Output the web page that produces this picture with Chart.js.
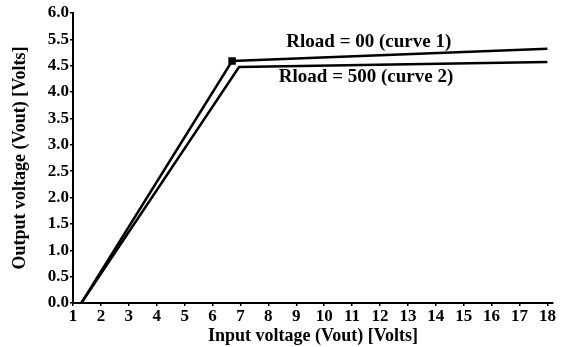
<!DOCTYPE html>
<html>
<head>
<meta charset="utf-8">
<script src="https://cdn.jsdelivr.net/npm/chart.js@4"></script>
<style>
html,body{margin:0;padding:0;background:#fff;}
#wrap{width:567px;height:347px;position:relative;}
</style>
</head>
<body>
<div id="wrap"><canvas id="c" width="567" height="347"></canvas></div>
<script>
// Tick labels (the original axis skips 5.0; ticks are evenly spaced)
const yTickLabels = ["0.0","0.5","1.0","1.5","2.0","2.5","3.0","3.5","4.0","4.5","5.5","6.0"];
const yTickValues = [0,0.5,1.0,1.5,2.0,2.5,3.0,3.5,4.0,4.5,5.5,6.0];
const xTickValues = [1,2,3,4,5,6,7,8,9,10,11,12,13,14,15,16,17,18];

// Series (input volts -> output volts)
const curve1X = [1.3, 6.7, 18];
const curve1Y = [0, 4.68, 5.14];
const curve2X = [1.3, 6.95, 18];
const curve2Y = [0, 4.475, 4.64];

const label1 = "Rload = 00 (curve 1)";
const label2 = "Rload = 500 (curve 2)";

// map volts onto the evenly spaced tick positions of the original axis
function voltToPos(v){
  for(let i=0;i<yTickValues.length-1;i++){
    const a=yTickValues[i], b=yTickValues[i+1];
    if(v<=b){ return i + (v-a)/(b-a); }
  }
  return yTickValues.length-1;
}
const toPts = (xs, ys) => xs.map((x,i)=>({x:x, y:voltToPos(ys[i])}));

const serif = "'Liberation Serif','DejaVu Serif',serif";

const annotPlugin = {
  id:'annot',
  afterDatasetsDraw(chart){
    const {ctx, scales:{x,y}} = chart;
    ctx.save();
    ctx.fillStyle='#000';
    ctx.font = "bold 19px " + serif;
    ctx.textAlign='center';
    ctx.textBaseline='middle';
    ctx.fillText(label1, x.getPixelForValue(11.6), y.getPixelForValue(voltToPos(5.4)));
    ctx.fillText(label2, x.getPixelForValue(11.5), y.getPixelForValue(voltToPos(4.29)));
    ctx.restore();
  }
};

new Chart(document.getElementById('c'), {
  type:'line',
  data:{
    datasets:[
      {data: toPts(curve1X, curve1Y), borderColor:'#000', backgroundColor:'#000', borderWidth:2.5,
       pointStyle:'rect', pointRadius:[0,3.5,0], pointHoverRadius:0, tension:0, fill:false},
      {data: toPts(curve2X, curve2Y), borderColor:'#000', backgroundColor:'#000', borderWidth:2.5,
       pointRadius:0, pointHoverRadius:0, tension:0, fill:false}
    ]
  },
  options:{
    responsive:false,
    animation:false,
    events:[],
    layout:{padding:{top:13,right:14,left:0,bottom:0}},
    plugins:{legend:{display:false}, tooltip:{enabled:false}},
    scales:{
      x:{
        type:'linear', min:1, max:18.2,
        afterBuildTicks(s){ s.ticks = xTickValues.map(v=>({value:v})); },
        afterFit(s){ s.height = 44; },
        border:{display:true,color:'#000',width:2},
        grid:{display:true, drawOnChartArea:false, drawTicks:true, tickLength:3, color:'#000', lineWidth:1.5},
        ticks:{color:'#000', font:{family:serif, size:17, weight:'bold'}, padding:0, maxRotation:0, autoSkip:false,
               callback:(v)=>String(v)},
        title:{display:true, text:'Input voltage (Vout) [Volts]', color:'#000',
               font:{family:serif, size:18, weight:'bold'}, padding:{top:0,bottom:0}}
      },
      y:{
        type:'linear', min:0, max:yTickLabels.length-1,
        afterBuildTicks(s){ s.ticks = yTickLabels.map((_,i)=>({value:i})); },
        afterFit(s){ s.width = 73; },
        border:{display:true,color:'#000',width:2},
        grid:{display:true, drawOnChartArea:false, drawTicks:true, tickLength:3, color:'#000', lineWidth:1.5},
        ticks:{color:'#000', font:{family:serif, size:17, weight:'bold'}, padding:1, autoSkip:false,
               callback:(v)=>yTickLabels[Math.round(v)]},
        title:{display:true, text:'Output voltage (Vout) [Volts]', color:'#000',
               font:{family:serif, size:18, weight:'bold'}, padding:{top:10,bottom:0}}
      }
    }
  },
  plugins:[annotPlugin]
});
</script>
</body>
</html>
